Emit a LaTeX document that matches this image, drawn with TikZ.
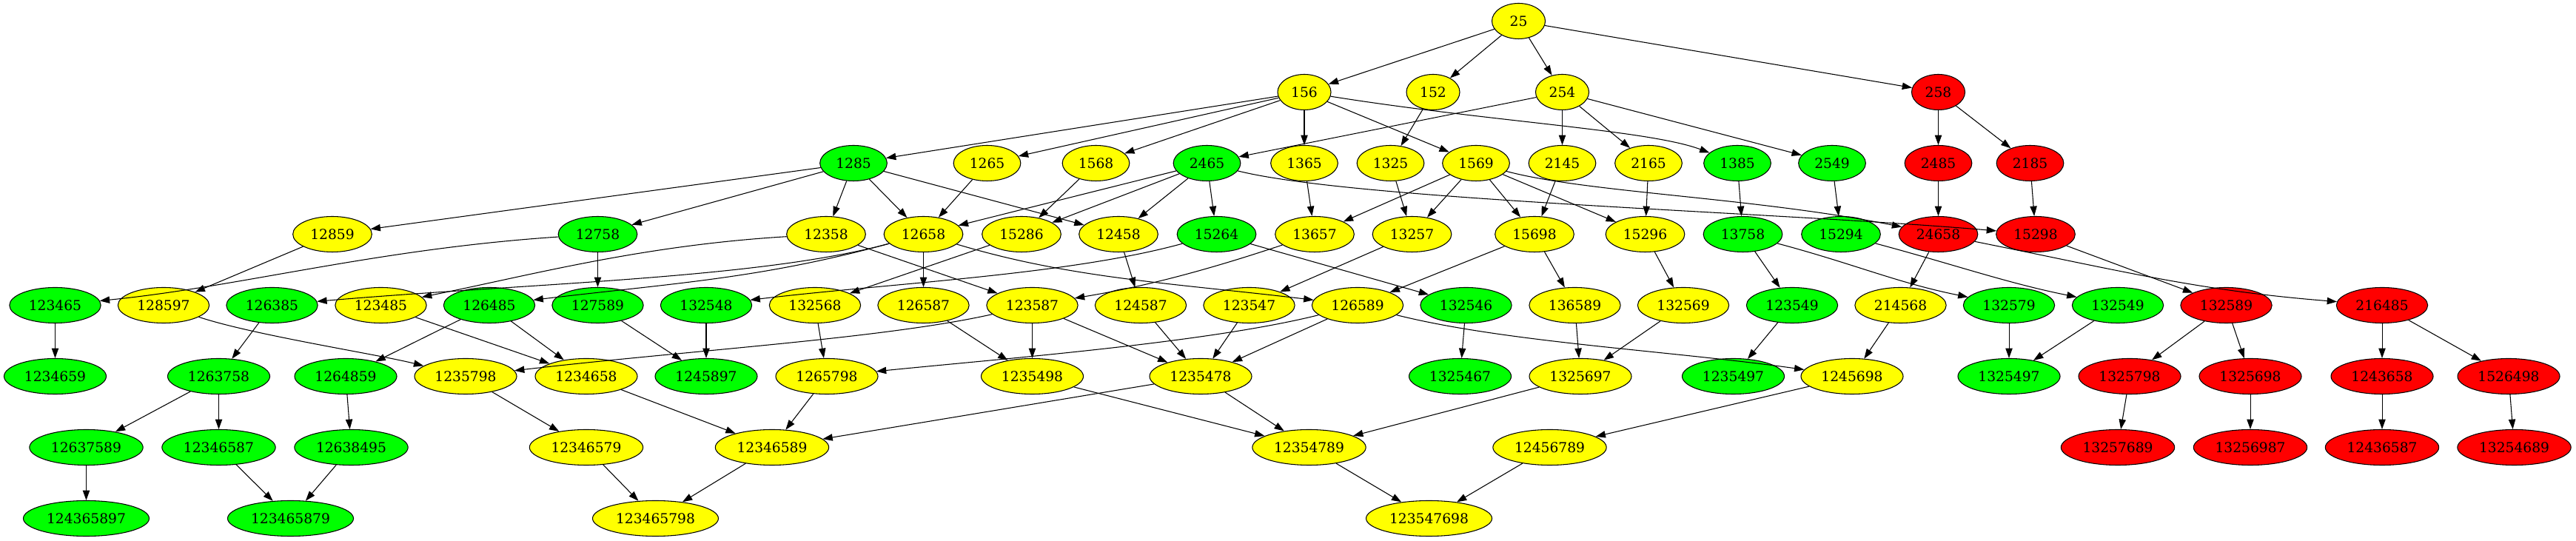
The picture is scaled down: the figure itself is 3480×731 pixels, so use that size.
\documentclass[tikz,border=0pt]{standalone}
\usepackage{fontspec}
\setmainfont{DejaVu Serif}
\usetikzlibrary{shapes.geometric,arrows.meta}
\definecolor{gvY}{RGB}{255,255,0}
\definecolor{gvG}{RGB}{0,255,0}
\definecolor{gvR}{RGB}{255,0,0}
\tikzset{
  nd/.style={ellipse, draw=black, line width=0.8pt, inner sep=0pt, minimum height=36pt,
             font=\fontsize{14pt}{16pt}\selectfont, text=black},
  Y/.style={nd, fill=gvY},
  G/.style={nd, fill=gvG},
  R/.style={nd, fill=gvR},
  w3/.style={minimum width=54pt},
  w4/.style={minimum width=68pt},
  w5/.style={minimum width=80pt},
  w6/.style={minimum width=92.5pt},
  w7/.style={minimum width=103.5pt},
  w8/.style={minimum width=115pt},
  w9/.style={minimum width=127.5pt},
  e/.style={draw=black, line width=0.8pt, -{Triangle[length=10pt,width=7pt]}}
}
\begin{document}
\begin{tikzpicture}[x=0.75pt,y=0.75pt]
\useasboundingbox (0,0) rectangle (3480,731);
% row 0
\node[Y,w3] (n25) at (2051.5,702.5) {25};
% row 1
\node[Y,w3] (n156) at (1762,606.5) {156};
\node[Y,w3] (n152) at (1936,606.5) {152};
\node[Y,w3] (n254) at (2110.5,606.5) {254};
\node[R,w3] (n258) at (2618.5,606.5) {258};
% row 2
\node[G,w4] (n1285) at (1153,510.5) {1285};
\node[Y,w4] (n1265) at (1333.5,510.5) {1265};
\node[Y,w4] (n1568) at (1480.5,510.5) {1568};
\node[G,w4] (n2465) at (1630.5,510.5) {2465};
\node[Y,w4] (n1365) at (1762,510.5) {1365};
\node[Y,w4] (n1325) at (1878.5,510.5) {1325};
\node[Y,w4] (n1569) at (1994,510.5) {1569};
\node[Y,w4] (n2145) at (2110.5,510.5) {2145};
\node[Y,w4] (n2165) at (2227,510.5) {2165};
\node[G,w4] (n1385) at (2347,510.5) {1385};
\node[G,w4] (n2549) at (2475,510.5) {2549};
\node[R,w4] (n2485) at (2618.5,510.5) {2485};
\node[R,w4] (n2185) at (2742.5,510.5) {2185};
% row 3
\node[Y,w5] (n12859) at (449,414.5) {12859};
\node[G,w5] (n12758) at (807.5,414.5) {12758};
\node[Y,w5] (n12358) at (1116,414.5) {12358};
\node[Y,w5] (n12658) at (1247.5,414.5) {12658};
\node[Y,w5] (n15286) at (1380,414.5) {15286};
\node[Y,w5] (n12458) at (1511,414.5) {12458};
\node[G,w5] (n15264) at (1643.5,414.5) {15264};
\node[Y,w5] (n13657) at (1776,414.5) {13657};
\node[Y,w5] (n13257) at (1907.5,414.5) {13257};
\node[Y,w5] (n15698) at (2073,414.5) {15698};
\node[Y,w5] (n15296) at (2222.5,414.5) {15296};
\node[G,w5] (n13758) at (2354.5,414.5) {13758};
\node[G,w5] (n15294) at (2487,414.5) {15294};
\node[R,w5] (n24658) at (2618.5,414.5) {24658};
\node[R,w5] (n15298) at (2750,414.5) {15298};
% row 4
\node[G,w6] (n123465) at (74.5,318.5) {123465};
\node[Y,w6] (n128597) at (221,318.5) {128597};
\node[G,w6] (n126385) at (367.5,318.5) {126385};
\node[Y,w6] (n123485) at (514.5,318.5) {123485};
\node[G,w6] (n126485) at (661,318.5) {126485};
\node[G,w6] (n127589) at (807.5,318.5) {127589};
\node[G,w6] (n132548) at (954,318.5) {132548};
\node[Y,w6] (n132568) at (1101,318.5) {132568};
\node[Y,w6] (n126587) at (1247.5,318.5) {126587};
\node[Y,w6] (n123587) at (1394.5,318.5) {123587};
\node[Y,w6] (n124587) at (1541,318.5) {124587};
\node[Y,w6] (n123547) at (1687.5,318.5) {123547};
\node[Y,w6] (n126589) at (1834,318.5) {126589};
\node[G,w6] (n132546) at (1980.5,318.5) {132546};
\node[Y,w6] (n136589) at (2127.5,318.5) {136589};
\node[Y,w6] (n132569) at (2274,318.5) {132569};
\node[G,w6] (n123549) at (2421,318.5) {123549};
\node[Y,w6] (n214568) at (2567.5,318.5) {214568};
\node[G,w6] (n132579) at (2714,318.5) {132579};
\node[G,w6] (n132549) at (2861,318.5) {132549};
\node[R,w6] (n132589) at (3007.5,318.5) {132589};
\node[R,w6] (n216485) at (3218,318.5) {216485};
% row 5
\node[G,w7] (n1234659) at (74.5,222.5) {1234659};
\node[G,w7] (n1263758) at (295.5,222.5) {1263758};
\node[G,w7] (n1264859) at (467,222.5) {1264859};
\node[Y,w7] (n1235798) at (629,222.5) {1235798};
\node[Y,w7] (n1234658) at (792,222.5) {1234658};
\node[G,w7] (n1245897) at (954,222.5) {1245897};
\node[Y,w7] (n1265798) at (1117,222.5) {1265798};
\node[Y,w7] (n1235498) at (1394.5,222.5) {1235498};
\node[Y,w7] (n1235478) at (1622,222.5) {1235478};
\node[G,w7] (n1325467) at (1972.5,222.5) {1325467};
\node[Y,w7] (n1325697) at (2135,222.5) {1325697};
\node[G,w7] (n1235497) at (2341.5,222.5) {1235497};
\node[Y,w7] (n1245698) at (2502,222.5) {1245698};
\node[G,w7] (n1325497) at (2714,222.5) {1325497};
\node[R,w7] (n1325798) at (2877,222.5) {1325798};
\node[R,w7] (n1325698) at (3040,222.5) {1325698};
\node[R,w7] (n1243658) at (3218,222.5) {1243658};
\node[R,w7] (n1526498) at (3389,222.5) {1526498};
% row 6
\node[G,w8] (n12637589) at (116.5,126.5) {12637589};
\node[G,w8] (n12346587) at (295.5,126.5) {12346587};
\node[G,w8] (n12638495) at (474.5,126.5) {12638495};
\node[Y,w8] (n12346579) at (792,126.5) {12346579};
\node[Y,w8] (n12346589) at (1043,126.5) {12346589};
\node[Y,w8] (n12354789) at (1768.5,126.5) {12354789};
\node[Y,w8] (n12456789) at (2093.5,126.5) {12456789};
\node[R,w8] (n13257689) at (2861,126.5) {13257689};
\node[R,w8] (n13256987) at (3040,126.5) {13256987};
\node[R,w8] (n12436587) at (3218,126.5) {12436587};
\node[R,w8] (n13254689) at (3396.5,126.5) {13254689};
% row 7
\node[G,w9] (n124365897) at (116.5,30.5) {124365897};
\node[G,w9] (n123465879) at (392.5,30.5) {123465879};
\node[Y,w9] (n123465798) at (885.5,30.5) {123465798};
\node[Y,w9] (n123547698) at (1930.5,30.5) {123547698};

% straight edges
\foreach \a/\b in {25/156,25/152,25/254,25/258,
  156/1285,156/1265,156/1568,156/1365,156/1569,152/1325,
  254/2465,254/2145,254/2165,254/2549,258/2485,258/2185,
  1285/12859,1285/12758,1285/12358,1285/12658,1285/12458,
  1265/12658,1568/15286,2465/12658,2465/15286,2465/12458,2465/15264,
  1365/13657,1325/13257,1569/13657,1569/13257,1569/15698,1569/15296,
  2145/15698,2165/15296,1385/13758,2549/15294,2485/24658,2185/15298,
  12859/128597,12758/127589,12358/123587,12658/126587,15286/132568,
  12458/124587,15264/132546,13257/123547,15698/126589,15698/136589,
  15296/132569,13758/123549,24658/214568,15298/132589,
  123465/1234659,126385/1263758,123485/1234658,126485/1264859,126485/1234658,
  127589/1245897,132548/1245897,132568/1265798,126587/1235498,
  123587/1235498,123587/1235478,124587/1235478,123547/1235478,126589/1235478,
  132546/1325467,136589/1325697,132569/1325697,123549/1235497,214568/1245698,
  132579/1325497,132549/1325497,132589/1325798,132589/1325698,
  216485/1243658,216485/1526498,
  1263758/12637589,1263758/12346587,1264859/12638495,1235798/12346579,
  1234658/12346589,1265798/12346589,1235478/12346589,
  1235498/12354789,1235478/12354789,1325697/12354789,1245698/12456789,
  1325798/13257689,1325698/13256987,1243658/12436587,1526498/13254689,
  12637589/124365897,12346587/123465879,12638495/123465879,
  12346579/123465798,12346589/123465798,12354789/123547698,12456789/123547698}
  \draw[e] (n\a) -- (n\b);

% curved edges
\draw[e] (n156) .. controls +(250,-40) and +(-120,45) .. (n1385);
\draw[e] (n2465) .. controls +(200,-50) and +(-350,30) .. (n15298);
\draw[e] (n1569) .. controls +(150,-40) and +(-250,50) .. (n24658);
\draw[e] (n12758) .. controls +(-300,-20) and +(250,25) .. (n123465);
\draw[e] (n12358) .. controls +(-250,-15) and +(200,40) .. (n123485);
\draw[e] (n12658) .. controls +(-220,-60) and +(350,30) .. (n126385);
\draw[e] (n12658) .. controls +(-220,-60) and +(250,30) .. (n126485);
\draw[e] (n12658) .. controls +(200,-60) and +(-250,30) .. (n126589);
\draw[e] (n15264) .. controls +(-200,-55) and +(250,30) .. (n132548);
\draw[e] (n13657) .. controls +(-150,-50) and +(150,25) .. (n123587);
\draw[e] (n13758) .. controls +(150,-40) and +(-150,30) .. (n132579);
\draw[e] (n15294) .. controls +(150,-40) and +(-150,30) .. (n132549);
\draw[e] (n24658) .. controls +(250,-50) and +(-250,20) .. (n216485);
\draw[e] (n128597) .. controls +(120,-40) and +(-120,30) .. (n1235798);
\draw[e] (n123587) .. controls +(-200,-45) and +(300,35) .. (n1235798);
\draw[e] (n126589) .. controls +(-200,-50) and +(250,25) .. (n1265798);
\draw[e] (n126589) .. controls +(200,-50) and +(-250,35) .. (n1245698);
\end{tikzpicture}
\end{document}
